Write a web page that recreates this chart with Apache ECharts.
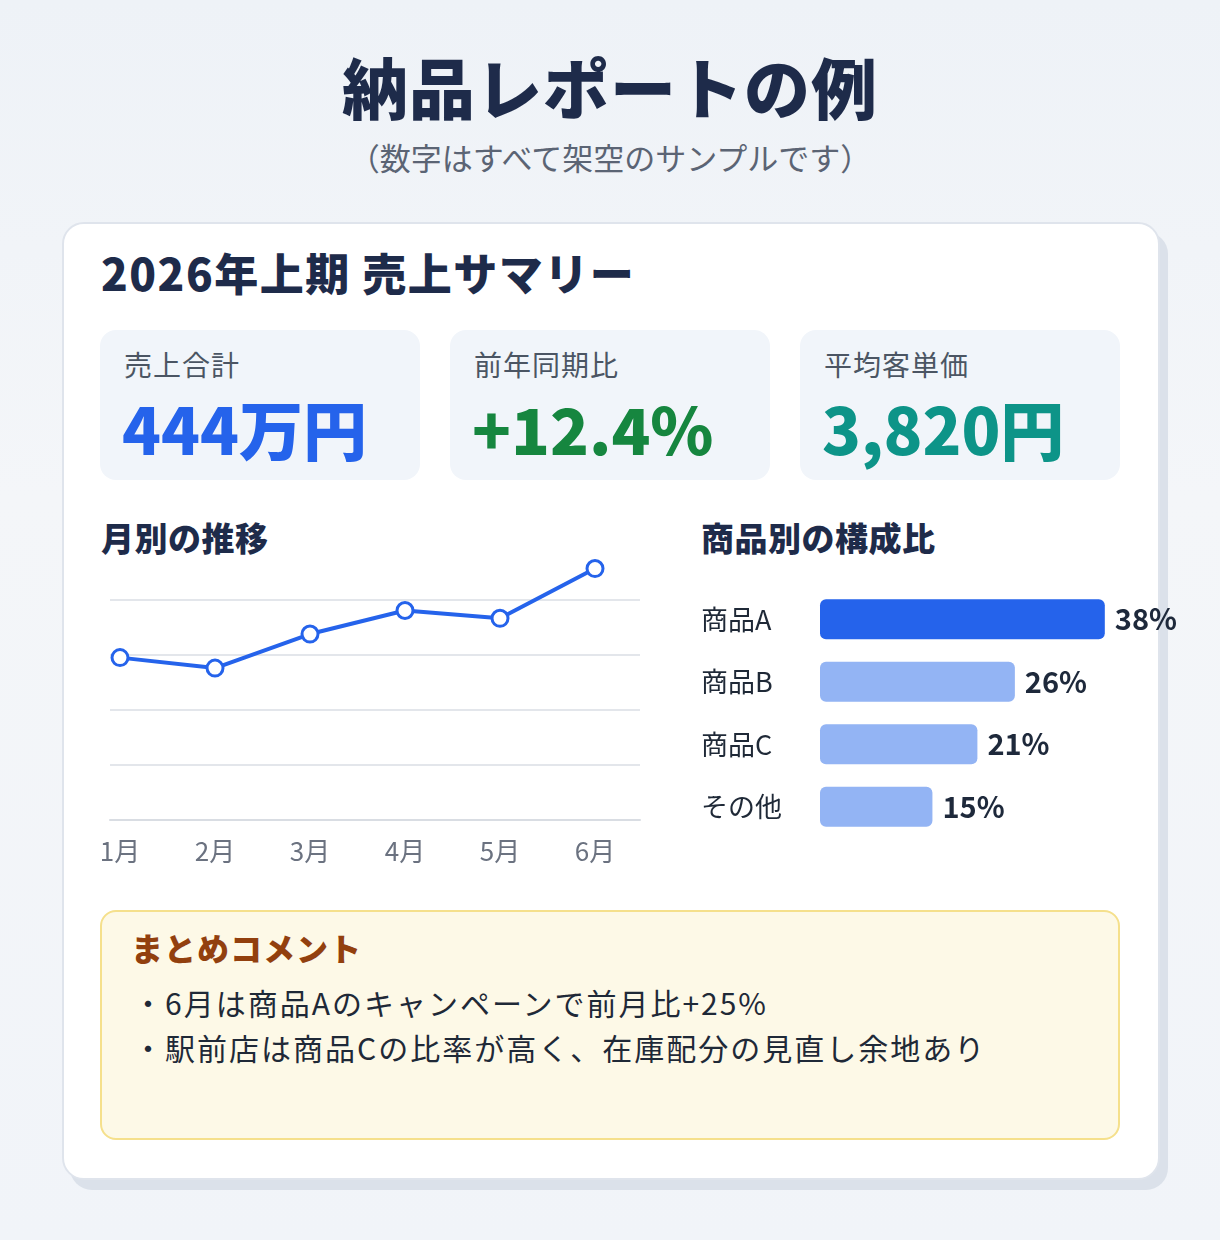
<!DOCTYPE html>
<html><head><meta charset="utf-8">
<script src="https://cdn.jsdelivr.net/npm/echarts@6/dist/echarts.min.js"></script>
<style>
html,body{margin:0;padding:0;}
body{width:1220px;height:1240px;position:relative;overflow:hidden;
  background:linear-gradient(#eef2f7,#f4f6f9 40%,#f1f4f9);font-family:"Noto Sans CJK JP","Noto Sans",sans-serif;}
.abs{position:absolute;}
#title{left:0;width:1220px;top:40px;text-align:center;font-size:66px;font-weight:900;color:#1e2b4a;line-height:90px;letter-spacing:1px;}
#sub{left:0;width:1220px;top:136px;text-align:center;font-size:31px;color:#5b6474;line-height:42px;}
#card{left:62px;top:222px;width:1094px;height:954px;background:#fff;border:2px solid #dfe4ec;border-radius:22px;
  box-shadow:8px 10px 0 #dbe1ea;}
#head{left:101px;top:242px;font-size:44px;font-weight:900;color:#1e2b4a;line-height:60px;letter-spacing:1.5px;}
.kpi{top:330px;width:320px;height:150px;background:#f1f5fa;border-radius:16px;}
.kl{position:absolute;left:24px;top:14px;font-size:28px;color:#4b5563;letter-spacing:1px;}
.kv{position:absolute;left:22px;top:52px;font-size:64px;font-weight:900;line-height:90px;}
.sec{top:512px;font-size:33px;font-weight:800;color:#1e2b4a;line-height:50px;letter-spacing:0.5px;}
#note{left:100px;top:910px;width:1016px;height:226px;background:#fdf9e7;border:2px solid #f5e08c;border-radius:16px;}
#note .h{position:absolute;left:29px;top:12px;font-size:32px;font-weight:800;color:#92400e;letter-spacing:1px;}
#note .b{position:absolute;left:31px;font-size:30px;color:#1f2937;letter-spacing:2px;}
</style></head><body>
<div id="title" class="abs">納品レポートの例</div>
<div id="sub" class="abs">（数字はすべて架空のサンプルです）</div>
<div id="card" class="abs"></div>
<div id="head" class="abs">2026年上期 売上サマリー</div>
<div class="abs kpi" style="left:100px"><div class="kl">売上合計</div><div class="kv" style="color:#2563eb">444万円</div></div>
<div class="abs kpi" style="left:450px"><div class="kl">前年同期比</div><div class="kv" style="color:#16863f">+12.4%</div></div>
<div class="abs kpi" style="left:800px"><div class="kl">平均客単価</div><div class="kv" style="color:#0d9488">3,820円</div></div>
<div class="abs sec" style="left:101px">月別の推移</div>
<div class="abs sec" style="left:701px">商品別の構成比</div>
<div id="line" class="abs" style="left:0;top:540px;width:700px;height:350px"></div>
<div id="bars" class="abs" style="left:680px;top:578px;width:540px;height:270px"></div>
<div id="note" class="abs">
  <div class="h">まとめコメント</div>
  <div class="b" style="top:68px">・6月は商品Aのキャンペーンで前月比+25%</div>
  <div class="b" style="top:113px">・駅前店は商品Cの比率が高く、在庫配分の見直し余地あり</div>
</div>
<script>
//Chart data
let months = ["1月", "2月", "3月", "4月", "5月", "6月"];
let monthly_sales = [62, 58, 71, 80, 77, 96];
let products = ["商品A", "商品B", "商品C", "その他"];
let product_shares = [38, 26, 21, 15];

let font = "Noto Sans CJK JP";
let month_index = months.map((m, i) => i);

//Monthly line (value x-axis so the grid lines run past the first/last month)
let line_chart = echarts.init(document.getElementById("line"), null, { renderer: "canvas" });
line_chart.setOption({
  animation: false,
  grid: { left: 110, right: 60, top: 60, bottom: 70 },
  xAxis: {
    type: "value", min: -10 / 95, max: 5 + 45 / 95,
    splitLine: { show: false },
    axisLine: { lineStyle: { color: "#d9dde3", width: 2 } }, axisTick: { show: false },
    axisLabel: {
      customValues: month_index,
      formatter: (v) => months[Math.round(v)],
      color: "#6b7280", fontSize: 26, fontFamily: font, margin: 18
    }
  },
  yAxis: {
    type: "value", min: 0, max: 84, interval: 21,
    axisLabel: { show: false }, axisLine: { show: false }, axisTick: { show: false },
    splitLine: { lineStyle: { color: "#e3e6eb", width: 2 } }
  },
  series: [{
    type: "line", data: monthly_sales.map((v, i) => [month_index[i], v]), clip: false,
    symbol: "circle", symbolSize: 16,
    lineStyle: { color: "#2563eb", width: 4 },
    itemStyle: { color: "#fff", borderColor: "#2563eb", borderWidth: 3 }
  }]
});

//Product share bars
let bar_chart = echarts.init(document.getElementById("bars"), null, { renderer: "canvas" });
bar_chart.setOption({
  animation: false,
  grid: { left: 140, right: 20, top: 10, bottom: 10 },
  xAxis: { type: "value", min: 0, max: 50.7, show: false },
  yAxis: {
    type: "category", data: products, inverse: true,
    axisLine: { show: false }, axisTick: { show: false },
    axisLabel: { color: "#1f2937", fontSize: 27, fontFamily: font, align: "left", margin: 119 }
  },
  series: [{
    type: "bar", data: product_shares, barWidth: 40,
    itemStyle: {
      borderRadius: 6,
      color: (p) => (p.dataIndex === 0) ? "#2563eb" : "#93b4f4"
    },
    label: {
      show: true, position: "right", formatter: "{c}%", distance: 10,
      color: "#1e293b", fontSize: 29, fontWeight: 600, fontFamily: font
    }
  }]
});
</script>
</body></html>
